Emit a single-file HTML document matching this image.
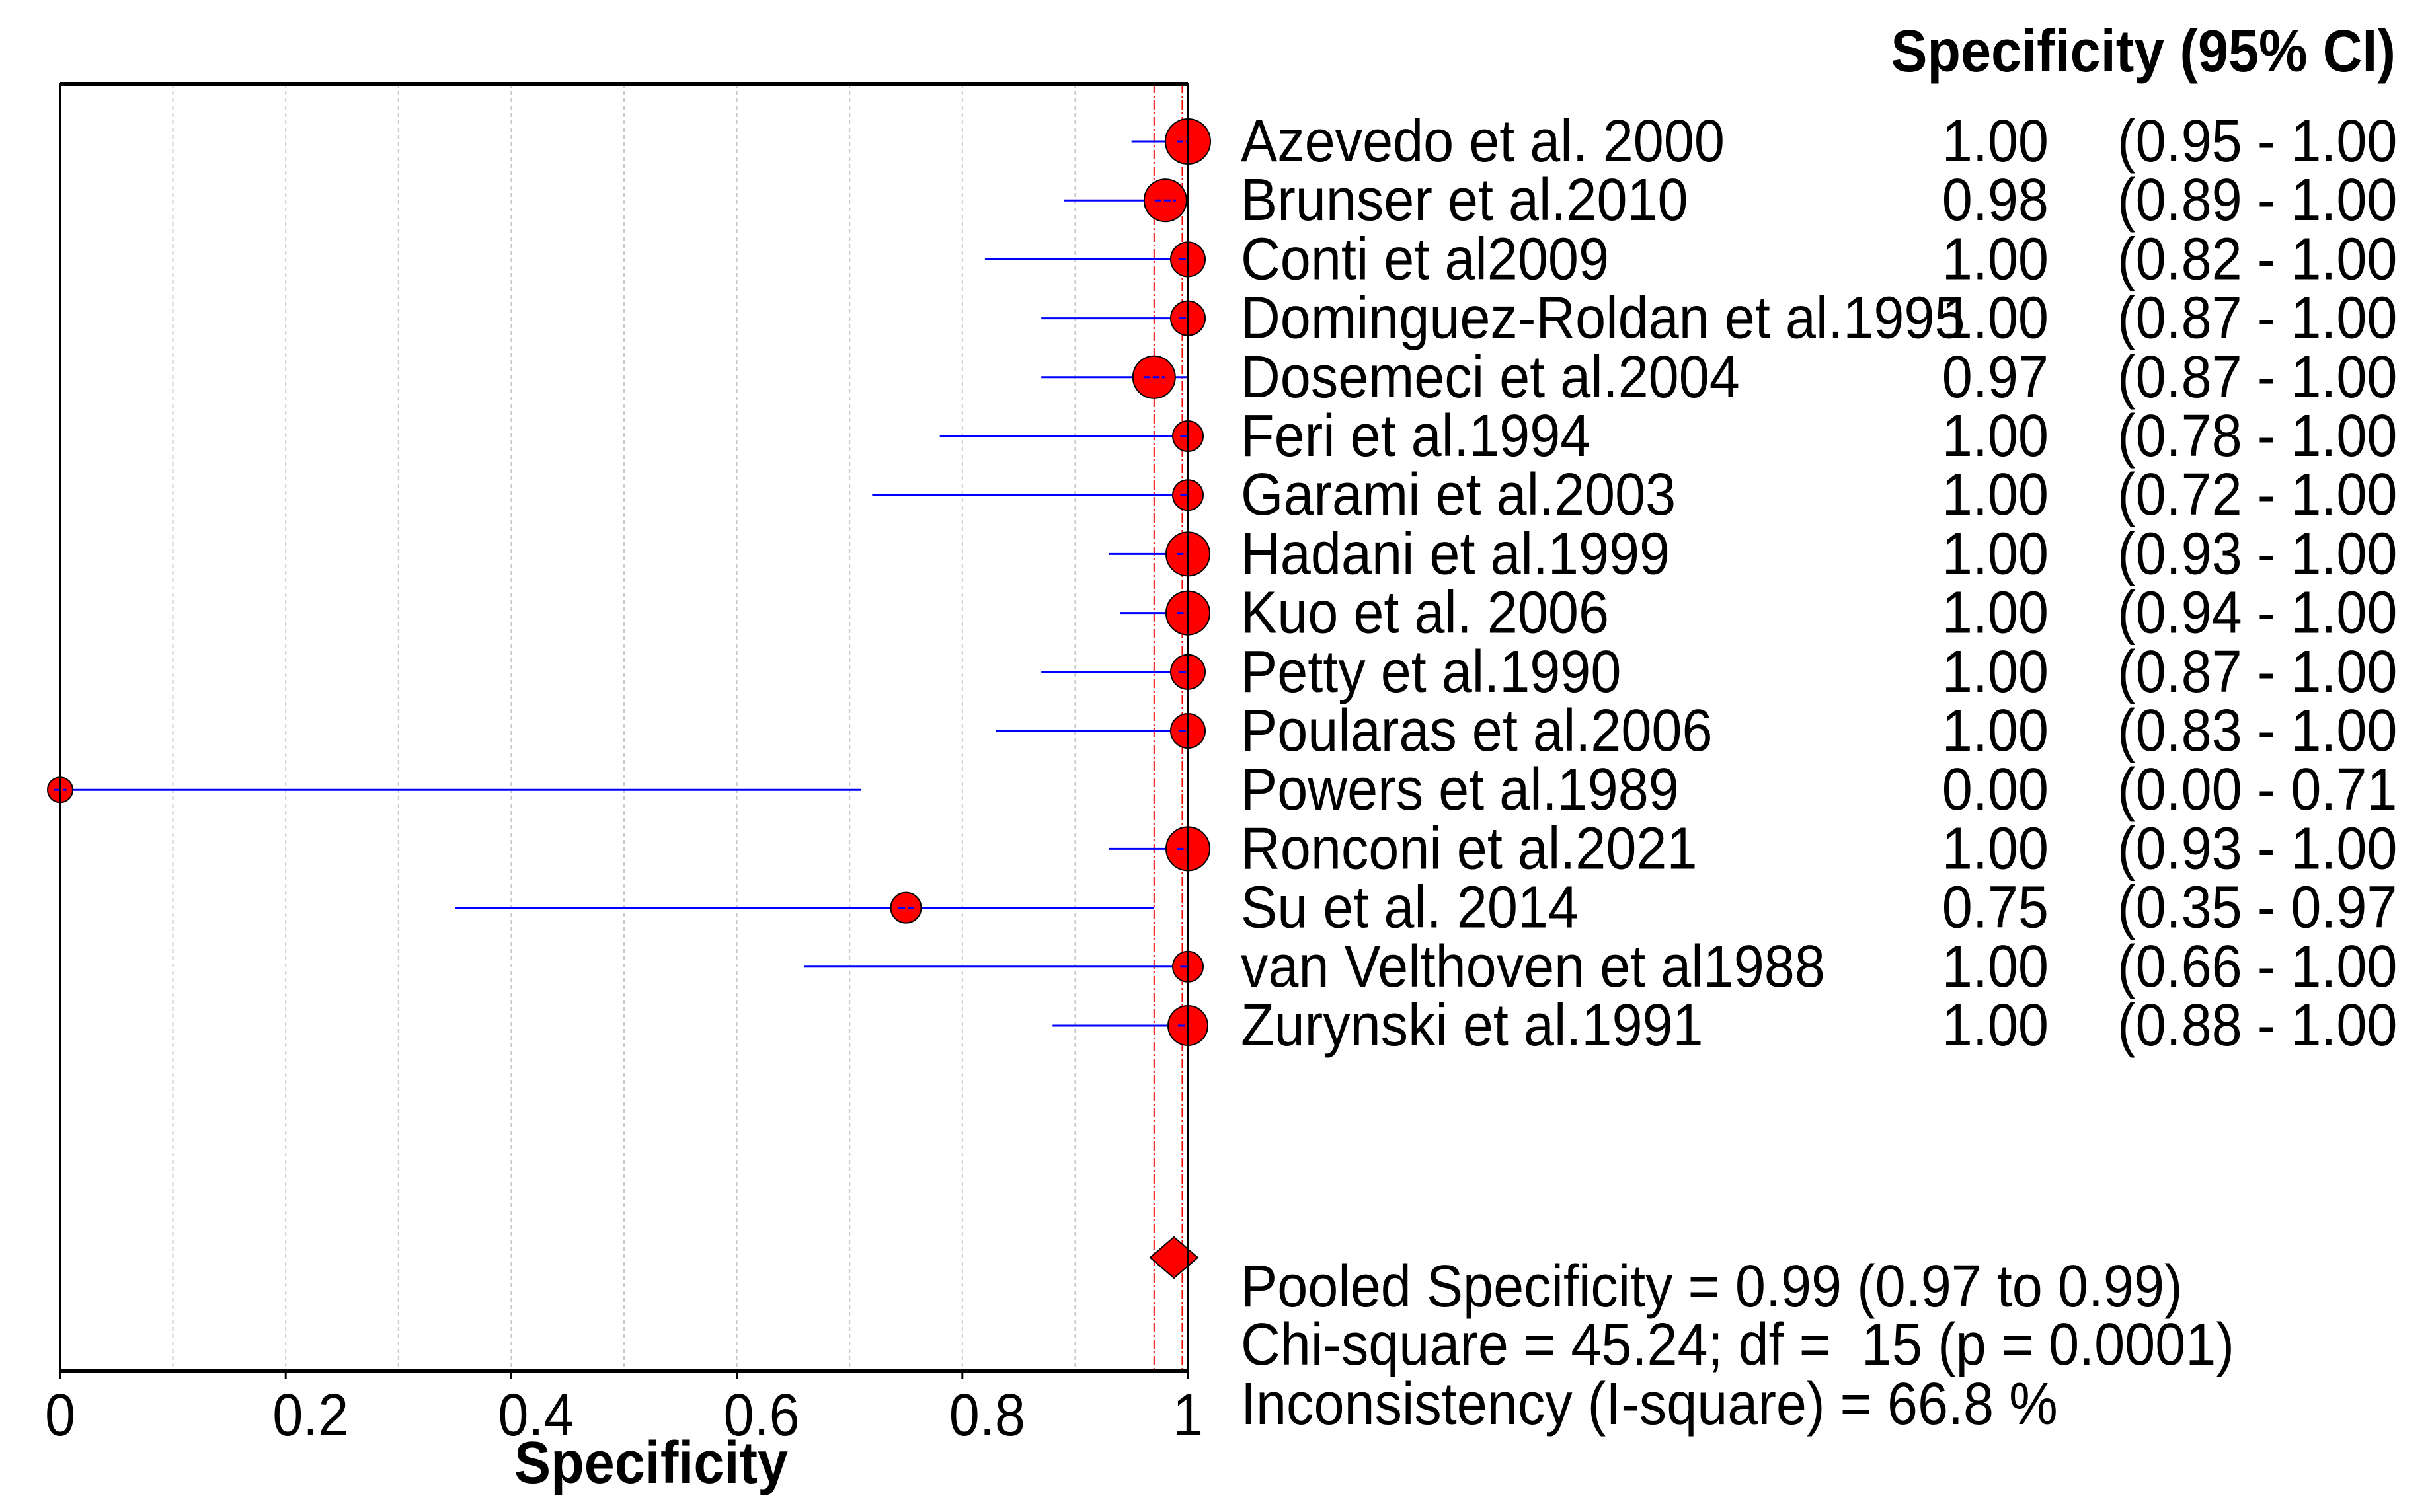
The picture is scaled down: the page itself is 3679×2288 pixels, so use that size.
<!DOCTYPE html>
<html><head><meta charset="utf-8"><style>
html,body{margin:0;padding:0;background:#fff;}
svg{display:block;font-family:"Liberation Sans",Arial,sans-serif;}
</style></head><body>
<svg id="chart" width="3679" height="2288" viewBox="0 0 3679 2288" xmlns="http://www.w3.org/2000/svg">
<g id="grid"></g>
<g id="marks"></g>
<g id="axis"></g>
<g id="table"></g>
<text class="sq" x="3624" y="108" text-anchor="end" font-size="90" font-weight="bold">Specificity (95% CI)</text>
<text class="sq" x="985" y="2244" text-anchor="middle" font-size="90" font-weight="bold">Specificity</text>
<text class="sq" x="1877" y="1977" font-size="90">Pooled Specificity = 0.99 (0.97 to 0.99)</text>
<text class="sq" x="1877" y="2065" font-size="90" xml:space="preserve">Chi-square = 45.24; df =  15 (p = 0.0001)</text>
<text class="sq" x="1877" y="2155" font-size="90">Inconsistency (I-square) = 66.8 %</text>
</svg>
<script>
const studies=["Azevedo et al. 2000","Brunser et al.2010","Conti et al2009","Dominguez-Roldan et al.1995","Dosemeci et al.2004","Feri et al.1994","Garami et al.2003","Hadani et al.1999","Kuo et al. 2006","Petty et al.1990","Poularas et al.2006","Powers et al.1989","Ronconi et al.2021","Su et al. 2014","van Velthoven et al1988","Zurynski et al.1991"];
const spec=[1.00,0.98,1.00,1.00,0.97,1.00,1.00,1.00,1.00,1.00,1.00,0.00,1.00,0.75,1.00,1.00];
const lower=[0.95,0.89,0.82,0.87,0.87,0.78,0.72,0.93,0.94,0.87,0.83,0.00,0.93,0.35,0.66,0.88];
const upper=[1.00,1.00,1.00,1.00,1.00,1.00,1.00,1.00,1.00,1.00,1.00,0.71,1.00,0.97,1.00,1.00];
const weight=[34,32,26,26,32,23,23,33,33,26,26,19,33,23,23,30];
const pooled=[0.99,0.97,0.995];
const ticks=[0,0.2,0.4,0.6,0.8,1];
const tickLabels=["0","0.2","0.4","0.6","0.8","1"];
const gridVals=[0.1,0.2,0.3,0.4,0.5,0.6,0.7,0.8,0.9];

const NS="http://www.w3.org/2000/svg";
const L=91,R=1797,T=127,B=2074;
const xs=v=>L+v*(R-L);
const ys=i=>214+i*89.2;
function mk(tag,attrs,parent){const e=document.createElementNS(NS,tag);for(const k in attrs)e.setAttribute(k,attrs[k]);parent.appendChild(e);return e;}
const grid=document.getElementById('grid'),marks=document.getElementById('marks'),axis=document.getElementById('axis'),table=document.getElementById('table');
gridVals.forEach(v=>{const l=mk('line',{x1:xs(v),x2:xs(v),y1:T,y2:B,stroke:'#c8c8c8','stroke-width':2,'stroke-dasharray':'6,5'},grid);

});
[pooled[1],pooled[2]].forEach(v=>{const l=mk('line',{x1:xs(v),x2:xs(v),y1:T,y2:B,stroke:'#ff0000','stroke-width':2,'stroke-dasharray':'14,4,3,4'},grid);

});
const fr=mk('path',{d:`M${L} ${T}H${R}V${B}H${L}Z`,fill:'none',stroke:'#000','stroke-width':3},axis);


mk('line',{x1:L,x2:R,y1:T,y2:T,stroke:'#000','stroke-width':6},axis);
mk('line',{x1:L,x2:R,y1:B,y2:B,stroke:'#000','stroke-width':6},axis);
ticks.forEach((v,i)=>{mk('line',{x1:xs(v),x2:xs(v),y1:B,y2:B+12,stroke:'#000','stroke-width':3},axis);
const multi=tickLabels[i].length>1;
const t=mk('text',{x:multi?xs(v)-20:xs(v),y:2172,'text-anchor':multi?'start':'middle','font-size':90,'class':'sq'},axis);t.textContent=tickLabels[i];

});
studies.forEach((s,i)=>{const y=ys(i);
const ci=mk('line',{x1:xs(lower[i]),x2:xs(upper[i]),y1:y,y2:y,stroke:'#0000ff','stroke-width':3},marks);


const c=mk('circle',{cx:xs(spec[i]),cy:y,r:weight[i],fill:'#ff0000',stroke:'#000','stroke-width':2},marks);


mk('line',{x1:xs(spec[i])-weight[i]*0.5,x2:Math.min(xs(upper[i]),xs(spec[i])+weight[i]*0.5),y1:y,y2:y,stroke:'#0000ff','stroke-width':3,'stroke-dasharray':'10,4'},marks);
const n=mk('text',{x:1877,y:y+30,'font-size':90,'class':'sq'},table);n.textContent=s;


const v=mk('text',{x:3099,y:y+30,'font-size':90,'text-anchor':'end','class':'sq'},table);v.textContent=spec[i].toFixed(2);


const c2=mk('text',{x:3203,y:y+30,'font-size':90,'class':'sq'},table);c2.textContent='('+lower[i].toFixed(2)+' - '+upper[i].toFixed(2);

});
const py=1903,pc=xs(pooled[0])-4,ph=36,pv=31;
const d=mk('path',{d:`M${pc} ${py-pv}L${pc+ph} ${py}L${pc} ${py+pv}L${pc-ph} ${py}Z`,fill:'#ff0000',stroke:'#000','stroke-width':2},marks);


document.querySelectorAll('text.sq').forEach(t=>{const w=t.getComputedTextLength();t.setAttribute('textLength',(w*0.92).toFixed(1));t.setAttribute('lengthAdjust','spacingAndGlyphs');});
</script>
</body></html>
